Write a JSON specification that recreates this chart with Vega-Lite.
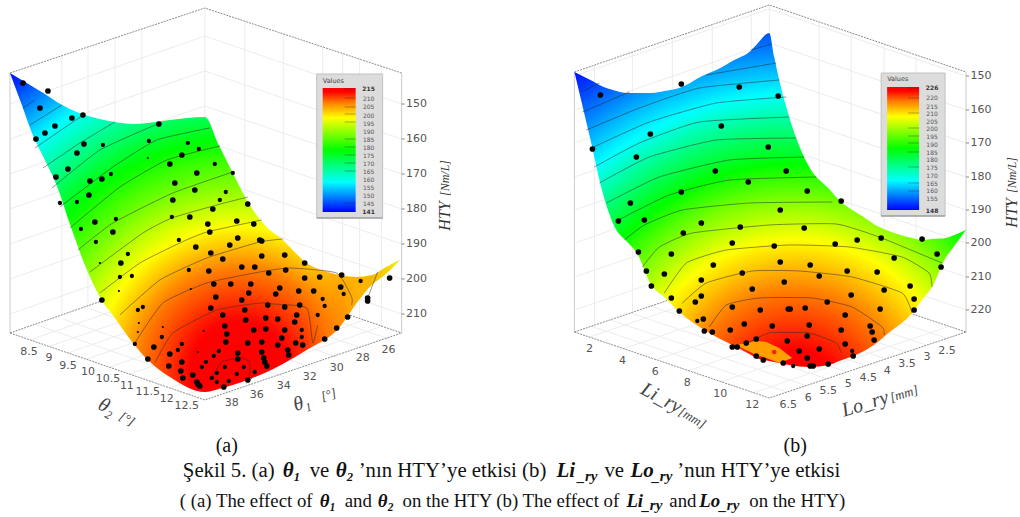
{"$schema":"https://vega.github.io/schema/vega-lite/v6.json","width":1020,"height":517,"padding":0,"autosize":{"type":"fit","contains":"padding"},"background":"white","config":{"view":{"stroke":null}},
"datasets":{
"grid":[
{"l":"a1","x":402,"y":104},{"l":"a1","x":205,"y":36},{"l":"a1","x":10,"y":104},
{"l":"a2","x":402,"y":139},{"l":"a2","x":205,"y":71},{"l":"a2","x":10,"y":139},
{"l":"a3","x":402,"y":174},{"l":"a3","x":205,"y":106},{"l":"a3","x":10,"y":174},
{"l":"a4","x":402,"y":209},{"l":"a4","x":205,"y":141},{"l":"a4","x":10,"y":209},
{"l":"a5","x":402,"y":244},{"l":"a5","x":205,"y":176},{"l":"a5","x":10,"y":244},
{"l":"a6","x":402,"y":279},{"l":"a6","x":205,"y":211},{"l":"a6","x":10,"y":279},
{"l":"a7","x":402,"y":314},{"l":"a7","x":205,"y":246},{"l":"a7","x":10,"y":314},
{"l":"av1","x":62,"y":56},{"l":"av1","x":62,"y":315},{"l":"av2","x":88,"y":47},{"l":"av2","x":88,"y":306},{"l":"av3","x":115,"y":38},{"l":"av3","x":115,"y":296},{"l":"av4","x":142,"y":29},{"l":"av4","x":142,"y":287},{"l":"av5","x":205,"y":8},{"l":"av5","x":205,"y":265},{"l":"av6","x":245,"y":21},{"l":"av6","x":245,"y":279},{"l":"av7","x":284,"y":34},{"l":"av7","x":284,"y":292},{"l":"av8","x":323,"y":47},{"l":"av8","x":323,"y":306},{"l":"av9","x":343,"y":54},{"l":"av9","x":343,"y":313},{"l":"av10","x":360,"y":59},{"l":"av10","x":360,"y":318},{"l":"av11","x":382,"y":66},{"l":"av11","x":382,"y":326},
{"l":"af1","x":30,"y":340},{"l":"af1","x":225,"y":272},{"l":"af2","x":50,"y":346},{"l":"af2","x":245,"y":279},{"l":"af3","x":68,"y":353},{"l":"af3","x":263,"y":285},{"l":"af4","x":87,"y":359},{"l":"af4","x":282,"y":291},{"l":"af5","x":110,"y":367},{"l":"af5","x":305,"y":299},{"l":"af6","x":130,"y":374},{"l":"af6","x":325,"y":306},{"l":"af7","x":150,"y":381},{"l":"af7","x":345,"y":313},{"l":"af8","x":170,"y":388},{"l":"af8","x":365,"y":320},{"l":"af9","x":188,"y":394},{"l":"af9","x":383,"y":326},
{"l":"ag1","x":389,"y":339},{"l":"ag1","x":194,"y":271},{"l":"ag2","x":362,"y":348},{"l":"ag2","x":167,"y":280},{"l":"ag3","x":337,"y":357},{"l":"ag3","x":142,"y":289},{"l":"ag4","x":310,"y":367},{"l":"ag4","x":115,"y":299},{"l":"ag5","x":285,"y":377},{"l":"ag5","x":90,"y":309},{"l":"ag6","x":258,"y":387},{"l":"ag6","x":63,"y":319},{"l":"ag7","x":232,"y":393},{"l":"ag7","x":37,"y":325},
{"l":"b1","x":967,"y":76},{"l":"b1","x":770,"y":9},{"l":"b1","x":575,"y":76},
{"l":"b2","x":967,"y":110},{"l":"b2","x":770,"y":43},{"l":"b2","x":575,"y":110},
{"l":"b3","x":967,"y":143},{"l":"b3","x":770,"y":76},{"l":"b3","x":575,"y":143},
{"l":"b4","x":967,"y":177},{"l":"b4","x":770,"y":110},{"l":"b4","x":575,"y":177},
{"l":"b5","x":967,"y":210},{"l":"b5","x":770,"y":143},{"l":"b5","x":575,"y":210},
{"l":"b6","x":967,"y":243},{"l":"b6","x":770,"y":176},{"l":"b6","x":575,"y":243},
{"l":"b7","x":967,"y":277},{"l":"b7","x":770,"y":210},{"l":"b7","x":575,"y":277},
{"l":"b8","x":967,"y":310},{"l":"b8","x":770,"y":243},{"l":"b8","x":575,"y":310},
{"l":"bv1","x":595,"y":65},{"l":"bv1","x":595,"y":325},{"l":"bv2","x":633,"y":52},{"l":"bv2","x":633,"y":312},{"l":"bv3","x":673,"y":38},{"l":"bv3","x":673,"y":299},{"l":"bv4","x":713,"y":25},{"l":"bv4","x":713,"y":285},{"l":"bv5","x":752,"y":11},{"l":"bv5","x":752,"y":272},{"l":"bv6","x":770,"y":5},{"l":"bv6","x":770,"y":266},{"l":"bv7","x":820,"y":22},{"l":"bv7","x":820,"y":283},{"l":"bv8","x":852,"y":33},{"l":"bv8","x":852,"y":293},{"l":"bv9","x":885,"y":44},{"l":"bv9","x":885,"y":305},{"l":"bv10","x":917,"y":55},{"l":"bv10","x":917,"y":315},
{"l":"bf1","x":590,"y":337},{"l":"bf1","x":785,"y":271},{"l":"bf2","x":623,"y":349},{"l":"bf2","x":818,"y":283},{"l":"bf3","x":656,"y":360},{"l":"bf3","x":851,"y":294},{"l":"bf4","x":688,"y":371},{"l":"bf4","x":883,"y":305},{"l":"bf5","x":721,"y":382},{"l":"bf5","x":916,"y":316},{"l":"bf6","x":753,"y":393},{"l":"bf6","x":948,"y":327},
{"l":"bg1","x":947,"y":338},{"l":"bg1","x":750,"y":272},{"l":"bg2","x":927,"y":345},{"l":"bg2","x":730,"y":279},{"l":"bg3","x":907,"y":352},{"l":"bg3","x":710,"y":286},{"l":"bg4","x":887,"y":359},{"l":"bg4","x":690,"y":293},{"l":"bg5","x":868,"y":366},{"l":"bg5","x":671,"y":300},{"l":"bg6","x":848,"y":372},{"l":"bg6","x":651,"y":306},{"l":"bg7","x":828,"y":379},{"l":"bg7","x":631,"y":313},{"l":"bg8","x":808,"y":386},{"l":"bg8","x":611,"y":320},{"l":"bg9","x":788,"y":392},{"l":"bg9","x":591,"y":326}
],
"verticals":[
{"l":"a1","x":10,"y":73},{"l":"a1","x":10,"y":333},{"l":"a2","x":402,"y":73},{"l":"a2","x":402,"y":333},
{"l":"b1","x":575,"y":72},{"l":"b1","x":575,"y":332},{"l":"b2","x":967,"y":72},{"l":"b2","x":967,"y":332}
],
"edges":[
{"l":"a1","x":10,"y":73},{"l":"a1","x":205,"y":8},{"l":"a1","x":402,"y":73},
{"l":"a2","x":10,"y":333},{"l":"a2","x":205,"y":400},{"l":"a2","x":402,"y":333},
{"l":"a3","x":10,"y":333},{"l":"a3","x":205,"y":265},{"l":"a3","x":402,"y":333},
{"l":"b1","x":575,"y":72},{"l":"b1","x":770,"y":5},{"l":"b1","x":967,"y":72},
{"l":"b2","x":575,"y":332},{"l":"b2","x":770,"y":398},{"l":"b2","x":967,"y":332},
{"l":"b3","x":575,"y":332},{"l":"b3","x":770,"y":266},{"l":"b3","x":967,"y":332}
],
"contours":[
{"l":"a150","x":23,"y":108},{"l":"a150","x":35,"y":100},
{"l":"a155","x":30,"y":125},{"l":"a155","x":62,"y":105},
{"l":"a160","x":35,"y":148},{"l":"a160","x":73,"y":122},{"l":"a160","x":85,"y":114},
{"l":"a165","x":43,"y":168},{"l":"a165","x":80,"y":143},{"l":"a165","x":115,"y":122},
{"l":"a170","x":52,"y":188},{"l":"a170","x":100,"y":150},{"l":"a170","x":160,"y":123},
{"l":"a175","x":60,"y":207},{"l":"a175","x":113,"y":167},{"l":"a175","x":157,"y":140},{"l":"a175","x":210,"y":128},
{"l":"a180","x":70,"y":228},{"l":"a180","x":120,"y":187},{"l":"a180","x":167,"y":160},{"l":"a180","x":220,"y":146},
{"l":"a185","x":78,"y":250},{"l":"a185","x":113,"y":223},{"l":"a185","x":173,"y":193},{"l":"a185","x":233,"y":172},
{"l":"a190","x":90,"y":272},{"l":"a190","x":143,"y":233},{"l":"a190","x":172,"y":218},{"l":"a190","x":217,"y":205},{"l":"a190","x":248,"y":197},
{"l":"a195","x":100,"y":293},{"l":"a195","x":140,"y":263},{"l":"a195","x":180,"y":243},{"l":"a195","x":207,"y":232},{"l":"a195","x":262,"y":220},
{"l":"a200","x":120,"y":315},{"l":"a200","x":160,"y":280},{"l":"a200","x":207,"y":258},{"l":"a200","x":260,"y":242},{"l":"a200","x":283,"y":239},
{"l":"a200b","x":378,"y":272},{"l":"a200b","x":373,"y":285},{"l":"a200b","x":368,"y":298},
{"l":"a205","x":135,"y":343},{"l":"a205","x":163,"y":303},{"l":"a205","x":207,"y":283},{"l":"a205","x":260,"y":272},{"l":"a205","x":290,"y":268},{"l":"a205","x":337,"y":273},{"l":"a205","x":352,"y":297},{"l":"a205","x":352,"y":305},
{"l":"a210","x":155,"y":363},{"l":"a210","x":173,"y":333},{"l":"a210","x":217,"y":310},{"l":"a210","x":260,"y":303},{"l":"a210","x":273,"y":304},{"l":"a210","x":307,"y":308},{"l":"a210","x":318,"y":325},{"l":"a210","x":313,"y":343},
{"l":"a215","x":212,"y":378},{"l":"a215","x":222,"y":362},{"l":"a215","x":240,"y":358},{"l":"a215","x":250,"y":362},{"l":"a215","x":256,"y":372},{"l":"a215","x":250,"y":380},
{"l":"b155","x":582,"y":92},{"l":"b155","x":600,"y":83},
{"l":"b155r","x":752,"y":50},{"l":"b155r","x":772,"y":44},
{"l":"b160","x":583,"y":112},{"l":"b160","x":630,"y":92},
{"l":"b160r","x":707,"y":75},{"l":"b160r","x":777,"y":63},
{"l":"b165","x":587,"y":130},{"l":"b165","x":640,"y":108},{"l":"b165","x":700,"y":88},{"l":"b165","x":780,"y":80},
{"l":"b170","x":592,"y":148},{"l":"b170","x":650,"y":122},{"l":"b170","x":717,"y":103},{"l":"b170","x":787,"y":97},
{"l":"b175","x":595,"y":167},{"l":"b175","x":640,"y":143},{"l":"b175","x":700,"y":122},{"l":"b175","x":790,"y":117},
{"l":"b180","x":600,"y":183},{"l":"b180","x":650,"y":157},{"l":"b180","x":717,"y":140},{"l":"b180","x":797,"y":138},
{"l":"b185","x":607,"y":203},{"l":"b185","x":660,"y":177},{"l":"b185","x":730,"y":160},{"l":"b185","x":805,"y":157},
{"l":"b190","x":619,"y":220},{"l":"b190","x":670,"y":195},{"l":"b190","x":730,"y":180},{"l":"b190","x":817,"y":177},
{"l":"b195","x":625,"y":240},{"l":"b195","x":645,"y":225},{"l":"b195","x":683,"y":210},{"l":"b195","x":750,"y":203},{"l":"b195","x":833,"y":202},
{"l":"b200","x":643,"y":267},{"l":"b200","x":660,"y":247},{"l":"b200","x":693,"y":233},{"l":"b200","x":770,"y":225},{"l":"b200","x":837,"y":224},{"l":"b200","x":880,"y":237},{"l":"b200","x":943,"y":263},
{"l":"b205","x":665,"y":293},{"l":"b205","x":687,"y":263},{"l":"b205","x":727,"y":250},{"l":"b205","x":790,"y":245},{"l":"b205","x":850,"y":247},{"l":"b205","x":903,"y":257},{"l":"b205","x":930,"y":273},{"l":"b205","x":933,"y":287},
{"l":"b210","x":683,"y":303},{"l":"b210","x":707,"y":283},{"l":"b210","x":753,"y":271},{"l":"b210","x":800,"y":271},{"l":"b210","x":853,"y":277},{"l":"b210","x":903,"y":293},{"l":"b210","x":913,"y":313},
{"l":"b215","x":710,"y":327},{"l":"b215","x":727,"y":305},{"l":"b215","x":760,"y":298},{"l":"b215","x":813,"y":298},{"l":"b215","x":853,"y":307},{"l":"b215","x":883,"y":327},{"l":"b215","x":885,"y":335},
{"l":"b220","x":745,"y":345},{"l":"b220","x":770,"y":333},{"l":"b220","x":810,"y":333},{"l":"b220","x":837,"y":343},{"l":"b220","x":842,"y":353}
],
"dots":[
{"x":23,"y":83,"d":3},{"x":48,"y":91,"d":3},{"x":40,"y":108,"d":3},{"x":83,"y":115,"d":3},{"x":72,"y":118,"d":3},{"x":55,"y":126,"d":3},{"x":45,"y":133,"d":3},{"x":36,"y":139,"d":3},{"x":84,"y":144,"d":3},{"x":103,"y":145,"d":2},{"x":77,"y":153,"d":3},{"x":68,"y":169,"d":3},{"x":56,"y":177,"d":3},{"x":90,"y":181,"d":3},{"x":102,"y":179,"d":3},{"x":111,"y":174,"d":2},{"x":89,"y":195,"d":3},{"x":77,"y":202,"d":2},{"x":60,"y":203,"d":2},{"x":159,"y":124,"d":3},{"x":149,"y":141,"d":2},{"x":148,"y":158,"d":1},{"x":188,"y":143,"d":2},{"x":199,"y":149,"d":2},{"x":182,"y":155,"d":3},{"x":170,"y":164,"d":3},{"x":215,"y":164,"d":2},{"x":197,"y":173,"d":3},{"x":233,"y":173,"d":2},{"x":175,"y":183,"d":3},{"x":195,"y":190,"d":3},{"x":226,"y":192,"d":2},{"x":220,"y":200,"d":2},{"x":173,"y":200,"d":3},{"x":248,"y":204,"d":3},{"x":213,"y":209,"d":3},{"x":172,"y":217,"d":2},{"x":190,"y":217,"d":3},{"x":95,"y":222,"d":3},{"x":116,"y":219,"d":2},{"x":81,"y":229,"d":2},{"x":113,"y":232,"d":3},{"x":237,"y":221,"d":3},{"x":208,"y":224,"d":3},{"x":254,"y":224,"d":3},{"x":210,"y":232,"d":3},{"x":96,"y":242,"d":2},{"x":179,"y":240,"d":2},{"x":238,"y":238,"d":3},{"x":230,"y":245,"d":3},{"x":196,"y":247,"d":3},{"x":260,"y":240,"d":3},
{"x":128,"y":254,"d":2},{"x":211,"y":253,"d":3},{"x":223,"y":259,"d":3},{"x":121,"y":263,"d":3},{"x":100,"y":263,"d":1},{"x":242,"y":267,"d":3},{"x":255,"y":267,"d":3},{"x":120,"y":277,"d":2},{"x":132,"y":276,"d":2},{"x":189,"y":270,"d":2},{"x":209,"y":271,"d":3},{"x":214,"y":284,"d":3},{"x":231,"y":284,"d":3},{"x":251,"y":284,"d":3},{"x":119,"y":291,"d":1},{"x":191,"y":289,"d":1},{"x":249,"y":293,"d":3},{"x":216,"y":297,"d":3},{"x":102,"y":300,"d":3},{"x":242,"y":300,"d":3},{"x":143,"y":307,"d":2},{"x":138,"y":310,"d":2},{"x":211,"y":308,"d":3},{"x":245,"y":310,"d":3},{"x":223,"y":315,"d":3},{"x":246,"y":320,"d":3},{"x":139,"y":323,"d":1},{"x":225,"y":326,"d":3},{"x":163,"y":327,"d":1},{"x":204,"y":331,"d":1},{"x":227,"y":334,"d":3},{"x":138,"y":332,"d":1},{"x":162,"y":337,"d":2},{"x":226,"y":342,"d":3},{"x":248,"y":343,"d":3},{"x":135,"y":344,"d":2},{"x":154,"y":347,"d":3},{"x":182,"y":344,"d":2},{"x":178,"y":350,"d":2},{"x":170,"y":354,"d":3},{"x":198,"y":352,"d":1},{"x":219,"y":351,"d":2},{"x":238,"y":353,"d":3},{"x":214,"y":356,"d":2},{"x":238,"y":359,"d":3},{"x":148,"y":359,"d":3},{"x":182,"y":362,"d":3},{"x":206,"y":362,"d":2},{"x":169,"y":366,"d":3},{"x":202,"y":367,"d":2},{"x":225,"y":367,"d":2},{"x":244,"y":367,"d":2},{"x":181,"y":371,"d":3},{"x":217,"y":373,"d":2},{"x":237,"y":374,"d":2},{"x":255,"y":372,"d":2},{"x":183,"y":378,"d":3},{"x":193,"y":375,"d":3},{"x":212,"y":378,"d":2},{"x":197,"y":382,"d":3},{"x":198,"y":384,"d":3},{"x":200,"y":386,"d":3},{"x":217,"y":382,"d":2},{"x":229,"y":381,"d":2},{"x":248,"y":380,"d":3},{"x":224,"y":387,"d":3},
{"x":262,"y":241,"d":3},{"x":262,"y":256,"d":3},{"x":285,"y":255,"d":3},{"x":305,"y":263,"d":3},{"x":269,"y":273,"d":3},{"x":286,"y":270,"d":3},{"x":342,"y":275,"d":3},{"x":320,"y":277,"d":3},{"x":305,"y":278,"d":3},{"x":361,"y":281,"d":2},{"x":390,"y":278,"d":3},{"x":341,"y":287,"d":3},{"x":280,"y":288,"d":3},{"x":276,"y":294,"d":3},{"x":299,"y":291,"d":3},{"x":314,"y":291,"d":3},{"x":344,"y":294,"d":2},{"x":323,"y":299,"d":2},{"x":368,"y":298,"d":3},{"x":368,"y":301,"d":3},{"x":268,"y":305,"d":3},{"x":285,"y":307,"d":3},{"x":300,"y":305,"d":3},{"x":325,"y":306,"d":2},{"x":297,"y":315,"d":3},{"x":318,"y":315,"d":2},{"x":266,"y":318,"d":3},{"x":278,"y":319,"d":3},{"x":295,"y":322,"d":3},{"x":348,"y":317,"d":3},{"x":337,"y":328,"d":3},{"x":254,"y":330,"d":3},{"x":266,"y":329,"d":3},{"x":285,"y":330,"d":3},{"x":302,"y":330,"d":2},{"x":282,"y":338,"d":3},{"x":302,"y":337,"d":2},{"x":325,"y":339,"d":3},{"x":262,"y":342,"d":3},{"x":278,"y":345,"d":3},{"x":296,"y":343,"d":3},{"x":303,"y":345,"d":3},{"x":262,"y":352,"d":3},{"x":288,"y":350,"d":3},{"x":289,"y":355,"d":3},{"x":264,"y":358,"d":3},{"x":265,"y":362,"d":3},{"x":267,"y":366,"d":3},
{"x":601,"y":95,"d":3},{"x":682,"y":84,"d":3},{"x":740,"y":87,"d":3},{"x":779,"y":96,"d":3},{"x":722,"y":126,"d":3},{"x":651,"y":134,"d":3},{"x":593,"y":149,"d":3},{"x":769,"y":147,"d":3},{"x":637,"y":157,"d":3},{"x":716,"y":171,"d":3},{"x":787,"y":171,"d":3},{"x":749,"y":182,"d":3},{"x":682,"y":192,"d":3},{"x":631,"y":203,"d":3},{"x":781,"y":210,"d":3},{"x":619,"y":221,"d":3},{"x":645,"y":220,"d":3},{"x":702,"y":223,"d":3},{"x":741,"y":227,"d":3},{"x":684,"y":233,"d":3},
{"x":808,"y":191,"d":3},{"x":842,"y":201,"d":3},{"x":805,"y":228,"d":3},{"x":858,"y":240,"d":3},{"x":882,"y":238,"d":3},{"x":923,"y":239,"d":3},
{"x":733,"y":243,"d":3},{"x":775,"y":246,"d":3},{"x":639,"y":252,"d":3},{"x":672,"y":254,"d":3},{"x":781,"y":262,"d":3},{"x":714,"y":265,"d":3},{"x":647,"y":271,"d":3},{"x":665,"y":274,"d":3},{"x":743,"y":273,"d":3},{"x":702,"y":280,"d":3},{"x":785,"y":282,"d":3},{"x":652,"y":286,"d":3},{"x":753,"y":289,"d":3},{"x":672,"y":298,"d":3},{"x":702,"y":296,"d":3},{"x":696,"y":302,"d":3},{"x":733,"y":307,"d":3},{"x":761,"y":310,"d":3},{"x":789,"y":309,"d":3},{"x":680,"y":311,"d":3},{"x":704,"y":319,"d":3},{"x":698,"y":321,"d":2},{"x":745,"y":324,"d":3},{"x":773,"y":326,"d":3},{"x":731,"y":330,"d":3},{"x":705,"y":331,"d":3},{"x":713,"y":332,"d":3},{"x":788,"y":341,"d":3},{"x":757,"y":339,"d":3},{"x":747,"y":343,"d":3},{"x":733,"y":347,"d":3},{"x":738,"y":347,"d":3},{"x":757,"y":356,"d":3},{"x":764,"y":360,"d":3},{"x":784,"y":363,"d":3},
{"x":836,"y":244,"d":3},{"x":938,"y":254,"d":3},{"x":895,"y":258,"d":3},{"x":811,"y":265,"d":3},{"x":942,"y":267,"d":3},{"x":848,"y":271,"d":3},{"x":878,"y":272,"d":3},{"x":820,"y":276,"d":3},{"x":911,"y":286,"d":3},{"x":885,"y":290,"d":3},{"x":852,"y":295,"d":3},{"x":915,"y":299,"d":3},{"x":828,"y":302,"d":3},{"x":791,"y":309,"d":3},{"x":806,"y":308,"d":3},{"x":881,"y":309,"d":3},{"x":915,"y":310,"d":3},{"x":846,"y":315,"d":3},{"x":810,"y":325,"d":3},{"x":871,"y":326,"d":3},{"x":842,"y":330,"d":3},{"x":873,"y":332,"d":3},{"x":808,"y":336,"d":3},{"x":875,"y":340,"d":3},{"x":846,"y":344,"d":3},{"x":820,"y":349,"d":3},{"x":800,"y":351,"d":3},{"x":853,"y":351,"d":2},{"x":854,"y":356,"d":3},{"x":808,"y":358,"d":3},{"x":829,"y":364,"d":3},{"x":811,"y":366,"d":3},{"x":814,"y":366,"d":3},{"x":794,"y":366,"d":2}
]
},
"encoding":{"x":{"field":"x","type":"quantitative","scale":{"domain":[0,1020],"nice":false,"zero":false},"axis":null},"y":{"field":"y","type":"quantitative","scale":{"domain":[517,0],"nice":false,"zero":false},"axis":null}},
"layer":[
{"data":{"name":"grid"},"mark":{"type":"line","stroke":"#ececec","strokeWidth":1},"encoding":{"detail":{"field":"l"},"order":null}},
{"data":{"name":"verticals"},"mark":{"type":"line","stroke":"#d4d4d4","strokeWidth":1.2},"encoding":{"detail":{"field":"l"}}},
{"data":{"name":"edges"},"mark":{"type":"line","stroke":"#8c8c8c","strokeWidth":1,"strokeDash":[2,1]},"encoding":{"detail":{"field":"l"},"order":null}},
{"data":{"values":[{"x":10,"y":73,"y2":73},{"x":20,"y":79,"y2":100},{"x":35,"y":88,"y2":140},{"x":45,"y":94,"y2":160},{"x":57,"y":102,"y2":186},{"x":70,"y":109,"y2":224},{"x":85,"y":115,"y2":265},{"x":100,"y":119,"y2":297},{"x":115,"y":122,"y2":318},{"x":133,"y":124,"y2":343},{"x":148,"y":123,"y2":360},{"x":170,"y":120,"y2":377},{"x":205,"y":117,"y2":392},{"x":219,"y":145,"y2":389},{"x":233,"y":173,"y2":385},{"x":250,"y":205,"y2":379},{"x":265,"y":225,"y2":373},{"x":283,"y":240,"y2":364},{"x":307,"y":263,"y2":350},{"x":340,"y":275,"y2":327},{"x":357,"y":277,"y2":303},{"x":373,"y":275,"y2":284},{"x":385,"y":268,"y2":275},{"x":400,"y":260,"y2":260}]},
"mark":{"type":"area","interpolate":"monotone","fill":{"gradient":"radial","x1":0.59,"y1":0.853,"r1":0,"x2":0.59,"y2":0.853,"r2":0.969,"stops":[{"offset":0.13,"color":"#ff0000"},{"offset":0.27,"color":"#ff8000"},{"offset":0.38,"color":"#ffff00"},{"offset":0.49,"color":"#80ff00"},{"offset":0.61,"color":"#00ff00"},{"offset":0.71,"color":"#00ff80"},{"offset":0.81,"color":"#00ffff"},{"offset":0.9,"color":"#0080ff"},{"offset":1,"color":"#0000ff"}]}},"encoding":{"y2":{"field":"y2"}}},
{"data":{"values":[{"x":307,"y":263,"y2":350},{"x":340,"y":275,"y2":327},{"x":357,"y":277,"y2":303},{"x":373,"y":275,"y2":284},{"x":385,"y":268,"y2":275},{"x":400,"y":260,"y2":260}]},
"mark":{"type":"area","interpolate":"monotone","fill":{"gradient":"linear","x1":0,"y1":0,"x2":1,"y2":0,"stops":[{"offset":0,"color":"rgba(255,130,0,0)"},{"offset":0.35,"color":"rgba(255,130,0,0.6)"},{"offset":0.7,"color":"rgba(255,170,0,0.85)"},{"offset":1,"color":"rgba(255,240,0,1)"}]}},"encoding":{"y2":{"field":"y2"}}},
{"data":{"values":[{"x":575,"y":72,"y2":72},{"x":585,"y":77,"y2":114},{"x":593,"y":81,"y2":148},{"x":600,"y":85,"y2":180},{"x":617,"y":91,"y2":230},{"x":627,"y":93,"y2":241},{"x":638,"y":93,"y2":254},{"x":652,"y":93,"y2":285},{"x":665,"y":91,"y2":297},{"x":680,"y":88,"y2":312},{"x":705,"y":75,"y2":330},{"x":717,"y":70,"y2":337},{"x":735,"y":60,"y2":346},{"x":750,"y":52,"y2":354},{"x":757,"y":45,"y2":358},{"x":770,"y":33,"y2":361},{"x":775,"y":57,"y2":362},{"x":780,"y":80,"y2":363},{"x":790,"y":117,"y2":365},{"x":810,"y":167,"y2":367},{"x":830,"y":189,"y2":365},{"x":840,"y":200,"y2":361},{"x":863,"y":216,"y2":352},{"x":880,"y":227,"y2":341},{"x":887,"y":230,"y2":335},{"x":913,"y":238,"y2":313},{"x":923,"y":240,"y2":300},{"x":933,"y":239,"y2":287},{"x":947,"y":238,"y2":257},{"x":950,"y":237,"y2":253},{"x":967,"y":230,"y2":230}]},
"mark":{"type":"area","interpolate":"monotone","fill":{"gradient":"radial","x1":0.561,"y1":1.01,"r1":0,"x2":0.561,"y2":1.01,"r2":1.02,"stops":[{"offset":0.125,"color":"#ff0000"},{"offset":0.275,"color":"#ff8000"},{"offset":0.4,"color":"#ffff00"},{"offset":0.5,"color":"#80ff00"},{"offset":0.59,"color":"#00ff00"},{"offset":0.68,"color":"#00ff80"},{"offset":0.765,"color":"#00ffff"},{"offset":0.875,"color":"#0080ff"},{"offset":1,"color":"#0000ff"}]}},"encoding":{"y2":{"field":"y2"}}},
{"data":{"values":[{"x":737,"y":345,"y2":345},{"x":757,"y":341,"y2":355},{"x":767,"y":342,"y2":358},{"x":780,"y":348,"y2":363},{"x":793,"y":358,"y2":358}]},"mark":{"type":"area","fill":"#ffa000"},"encoding":{"y2":{"field":"y2"}}},
{"data":{"values":[{"x":775,"y":352}]},"mark":{"type":"circle","fill":"#ff2000","opacity":1,"size":22}},
{"data":{"name":"contours"},"mark":{"type":"line","stroke":"#2a2a2a","strokeWidth":0.8,"opacity":0.65,"interpolate":"cardinal","tension":0.5},"encoding":{"detail":{"field":"l"},"order":null}},
{"data":{"name":"dots"},"mark":{"type":"circle","fill":"#050505","opacity":1},"encoding":{"size":{"field":"d","type":"quantitative","scale":{"domain":[1,3],"range":[5,32]},"legend":null}}},
{"data":{"values":[{"x":317,"x2":383,"y":74,"y2":218},{"x":882,"x2":946,"y":73,"y2":216}]},"mark":{"type":"rect","fill":"#dcdcdc","stroke":"#c0c0c0","strokeWidth":1},"encoding":{"x2":{"field":"x2"},"y2":{"field":"y2"}}},
{"data":{"values":[{"x":317,"x2":383,"y":218},{"x":882,"x2":946,"y":216}]},"mark":{"type":"rule","stroke":"#8a8a8a","strokeWidth":1},"encoding":{"x2":{"field":"x2"}}},
{"data":{"values":[{"x":323,"x2":356,"y":88,"y2":212},{"x":888,"x2":920,"y":87,"y2":210}]},"mark":{"type":"rect","fill":{"gradient":"linear","x1":0,"y1":0,"x2":0,"y2":1,"stops":[{"offset":0.03,"color":"#ff0000"},{"offset":0.12,"color":"#ff8000"},{"offset":0.24,"color":"#ffff00"},{"offset":0.5,"color":"#00ff00"},{"offset":0.76,"color":"#00ffff"},{"offset":0.88,"color":"#0080ff"},{"offset":1,"color":"#0000ff"}]}},"encoding":{"x2":{"field":"x2"},"y2":{"field":"y2"}}},
{"data":{"values":[{"x":345,"x2":356,"y":89},{"x":345,"x2":356,"y":98},{"x":345,"x2":356,"y":107},{"x":345,"x2":356,"y":114},{"x":345,"x2":356,"y":122},{"x":345,"x2":356,"y":139},{"x":345,"x2":356,"y":147},{"x":345,"x2":356,"y":155},{"x":345,"x2":356,"y":163},{"x":345,"x2":356,"y":171},{"x":345,"x2":356,"y":203},{"x":909,"x2":920,"y":88},{"x":909,"x2":920,"y":98},{"x":909,"x2":920,"y":113},{"x":909,"x2":920,"y":128},{"x":909,"x2":920,"y":136},{"x":909,"x2":920,"y":143},{"x":909,"x2":920,"y":152},{"x":909,"x2":920,"y":167},{"x":909,"x2":920,"y":183},{"x":909,"x2":920,"y":191}]},"mark":{"type":"rule","stroke":"#222222","strokeWidth":0.7,"opacity":0.5},"encoding":{"x2":{"field":"x2"}}},
{"data":{"values":[{"x":402,"x2":405,"y":104},{"x":402,"x2":405,"y":139},{"x":402,"x2":405,"y":174},{"x":402,"x2":405,"y":209},{"x":402,"x2":405,"y":244},{"x":402,"x2":405,"y":279},{"x":402,"x2":405,"y":314},{"x":967,"x2":970,"y":76},{"x":967,"x2":970,"y":110},{"x":967,"x2":970,"y":143},{"x":967,"x2":970,"y":177},{"x":967,"x2":970,"y":210},{"x":967,"x2":970,"y":243},{"x":967,"x2":970,"y":277},{"x":967,"x2":970,"y":310}]},"mark":{"type":"rule","stroke":"#888888","strokeWidth":1},"encoding":{"x2":{"field":"x2"}}},
{"data":{"values":[{"t":"150","x":417,"y":104},{"t":"160","x":417,"y":139},{"t":"170","x":417,"y":174},{"t":"180","x":417,"y":209},{"t":"190","x":417,"y":244},{"t":"200","x":417,"y":279},{"t":"210","x":417,"y":314},{"t":"8.5","x":29,"y":352},{"t":"9","x":49,"y":358},{"t":"9.5","x":68,"y":366},{"t":"10","x":88,"y":372},{"t":"10.5","x":108,"y":379},{"t":"11","x":127,"y":386},{"t":"11.5","x":148,"y":392},{"t":"12","x":167,"y":399},{"t":"12.5","x":187,"y":406},{"t":"38","x":232,"y":403},{"t":"36","x":257,"y":395},{"t":"34","x":284,"y":386},{"t":"32","x":310,"y":377},{"t":"30","x":337,"y":368},{"t":"28","x":363,"y":358},{"t":"26","x":389,"y":350},{"t":"150","x":982,"y":76},{"t":"160","x":982,"y":110},{"t":"170","x":982,"y":143},{"t":"180","x":982,"y":177},{"t":"190","x":982,"y":210},{"t":"200","x":982,"y":243},{"t":"210","x":982,"y":277},{"t":"220","x":982,"y":310},{"t":"2","x":590,"y":349},{"t":"4","x":623,"y":361},{"t":"6","x":656,"y":372},{"t":"8","x":688,"y":383},{"t":"10","x":721,"y":394},{"t":"12","x":753,"y":405},{"t":"6.5","x":789,"y":405},{"t":"6","x":809,"y":398},{"t":"5.5","x":829,"y":391},{"t":"5","x":849,"y":384},{"t":"4.5","x":869,"y":378},{"t":"4","x":888,"y":371},{"t":"3.5","x":908,"y":364},{"t":"3","x":928,"y":357},{"t":"2.5","x":948,"y":351}]},"mark":{"type":"text","font":"DejaVu Sans","fontSize":11,"fill":"#555555","align":"center","baseline":"middle"},"encoding":{"text":{"field":"t"}}},
{"data":{"values":[{"t":"Values","x":323,"y":81},{"t":"Values","x":888,"y":79}]},"mark":{"type":"text","font":"DejaVu Sans","fontSize":6.5,"fill":"#444444","align":"left","baseline":"middle"},"encoding":{"text":{"field":"t"}}},
{"data":{"values":[{"t":"210","x":369,"y":99},{"t":"205","x":369,"y":107},{"t":"200","x":369,"y":116},{"t":"195","x":369,"y":124},{"t":"190","x":369,"y":132},{"t":"185","x":369,"y":140},{"t":"180","x":369,"y":148},{"t":"175","x":369,"y":156},{"t":"170","x":369,"y":164},{"t":"165","x":369,"y":172},{"t":"160","x":369,"y":180},{"t":"155","x":369,"y":188},{"t":"150","x":369,"y":196},{"t":"145","x":369,"y":204},{"t":"220","x":933,"y":98},{"t":"215","x":933,"y":107},{"t":"210","x":933,"y":114},{"t":"205","x":933,"y":122},{"t":"200","x":933,"y":129},{"t":"195","x":933,"y":137},{"t":"190","x":933,"y":145},{"t":"185","x":933,"y":153},{"t":"180","x":933,"y":160},{"t":"175","x":933,"y":168},{"t":"170","x":933,"y":176},{"t":"165","x":933,"y":184},{"t":"160","x":933,"y":191},{"t":"155","x":933,"y":199}]},"mark":{"type":"text","font":"DejaVu Sans","fontSize":6,"fill":"#555555","align":"center","baseline":"middle"},"encoding":{"text":{"field":"t"}}},
{"data":{"values":[{"t":"215","x":369,"y":89},{"t":"141","x":369,"y":212},{"t":"226","x":933,"y":88},{"t":"148","x":933,"y":211}]},"mark":{"type":"text","font":"DejaVu Sans","fontSize":6,"fontWeight":"bold","fill":"#333333","align":"center","baseline":"middle"},"encoding":{"text":{"field":"t"}}},
{"data":{"values":[{"t":"HTY","x":445,"y":216},{"t":"HTY","x":1013,"y":213}]},"mark":{"type":"text","font":"Liberation Serif","fontStyle":"italic","fontSize":16,"fill":"#333333","angle":270,"align":"center","baseline":"middle"},"encoding":{"text":{"field":"t"}}},
{"data":{"values":[{"t":"[Nm/L]","x":445,"y":178},{"t":"[Nm/L]","x":1013,"y":175}]},"mark":{"type":"text","font":"Liberation Serif","fontStyle":"italic","fontSize":12,"fill":"#333333","angle":270,"align":"center","baseline":"middle"},"encoding":{"text":{"field":"t"}}},
{"data":{"values":[{"t":"θ₂","x":107,"y":407},{"t":"Li_ry","x":662,"y":398}]},"mark":{"type":"text","font":"Liberation Serif","fontStyle":"italic","fontSize":20,"fill":"#444444","angle":28,"align":"center","baseline":"middle"},"encoding":{"text":{"field":"t"}}},
{"data":{"values":[{"t":"[°]","x":127,"y":419},{"t":"[mm]","x":693,"y":418}]},"mark":{"type":"text","font":"Liberation Serif","fontStyle":"italic","fontSize":13,"fill":"#444444","angle":30,"align":"center","baseline":"middle"},"encoding":{"text":{"field":"t"}}},
{"data":{"values":[{"t":"θ₁","x":302,"y":403},{"t":"Lo_ry","x":866,"y":404}]},"mark":{"type":"text","font":"Liberation Serif","fontStyle":"italic","fontSize":20,"fill":"#444444","angle":-17,"align":"center","baseline":"middle"},"encoding":{"text":{"field":"t"}}},
{"data":{"values":[{"t":"[°]","x":329,"y":395},{"t":"[mm]","x":905,"y":394}]},"mark":{"type":"text","font":"Liberation Serif","fontStyle":"italic","fontSize":13,"fill":"#444444","angle":-17,"align":"center","baseline":"middle"},"encoding":{"text":{"field":"t"}}},
{"data":{"values":[{"t":"(a)","x":227,"y":452},{"t":"(b)","x":796,"y":452}]},"mark":{"type":"text","font":"Liberation Serif","fontSize":20,"fill":"#111111","align":"center","baseline":"alphabetic"},"encoding":{"text":{"field":"t"}}},
{"data":{"values":[{"t":"Şekil 5. (a)","x":183,"y":477},{"t":"ve","x":310,"y":477},{"t":"’nın HTY’ye etkisi (b)","x":359,"y":477},{"t":"ve","x":605,"y":477},{"t":"’nun HTY’ye etkisi","x":678,"y":477}]},"mark":{"type":"text","font":"Liberation Serif","fontSize":20.8,"fill":"#111111","align":"left","baseline":"alphabetic"},"encoding":{"text":{"field":"t"}}},
{"data":{"values":[{"t":"( (a) The effect of","x":180,"y":507},{"t":"and","x":345,"y":507},{"t":"on the HTY (b) The effect of","x":403,"y":507},{"t":"and","x":670,"y":507},{"t":"on the HTY)","x":750,"y":507}]},"mark":{"type":"text","font":"Liberation Serif","fontSize":18.8,"fill":"#111111","align":"left","baseline":"alphabetic"},"encoding":{"text":{"field":"t"}}},
{"data":{"values":[{"t":"θ₁","x":283,"y":477},{"t":"θ₂","x":336,"y":477},{"t":"Li","x":557,"y":477},{"t":"Lo","x":631,"y":477}]},"mark":{"type":"text","font":"Liberation Serif","fontSize":21,"fontWeight":"bold","fontStyle":"italic","fill":"#111111","align":"left","baseline":"alphabetic"},"encoding":{"text":{"field":"t"}}},
{"data":{"values":[{"t":"θ₁","x":320,"y":507},{"t":"θ₂","x":378,"y":507},{"t":"Li","x":627,"y":507},{"t":"Lo","x":700,"y":507}]},"mark":{"type":"text","font":"Liberation Serif","fontSize":18.8,"fontWeight":"bold","fontStyle":"italic","fill":"#111111","align":"left","baseline":"alphabetic"},"encoding":{"text":{"field":"t"}}},
{"data":{"values":[{"t":"_ry","x":578,"y":481},{"t":"_ry","x":653,"y":481},{"t":"_ry","x":643,"y":510},{"t":"_ry","x":720,"y":510}]},"mark":{"type":"text","font":"Liberation Serif","fontSize":15,"fontWeight":"bold","fontStyle":"italic","fill":"#111111","align":"left","baseline":"alphabetic"},"encoding":{"text":{"field":"t"}}}
]}
